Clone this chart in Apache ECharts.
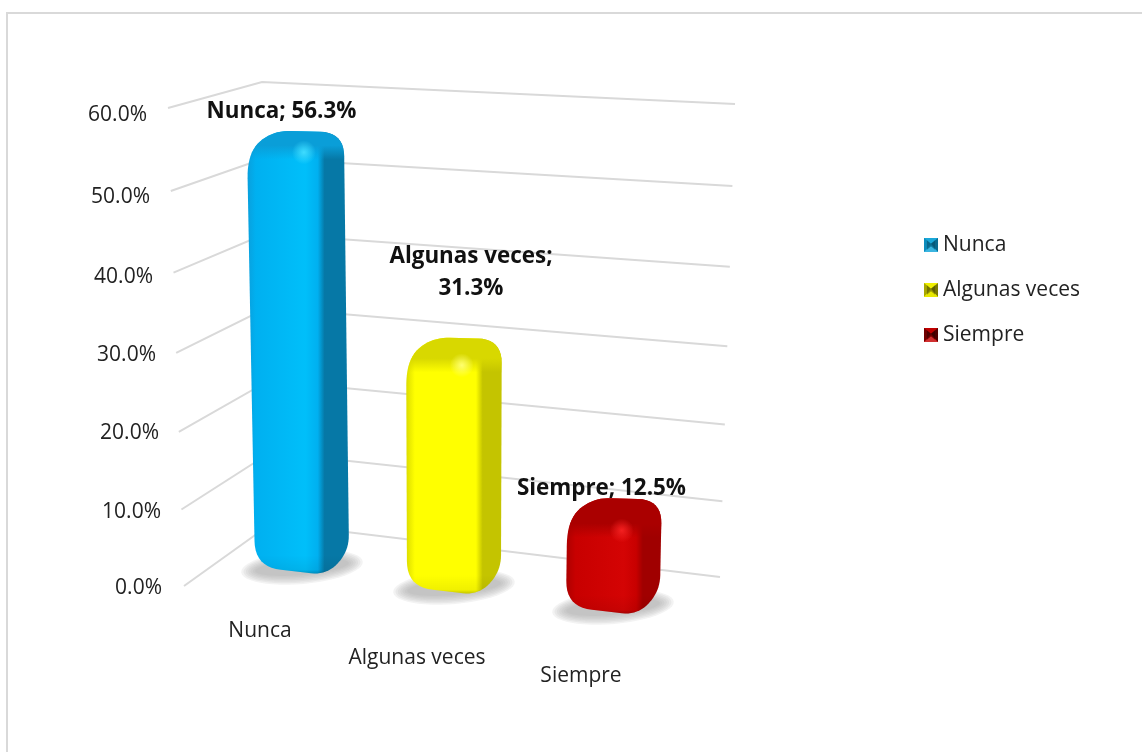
<!DOCTYPE html>
<html>
<head>
<meta charset="utf-8">
<style>html,body{margin:0;padding:0;background:#fff}#c{width:1142px;height:752px}</style>
<script src="https://cdn.jsdelivr.net/npm/echarts@6/dist/echarts.min.js"></script>
</head>
<body>
<div id="c"></div>
<script>
const categories = ['Nunca', 'Algunas veces', 'Siempre'];
const values = [56.3, 31.3, 12.5];
const yTicks = [0, 10, 20, 30, 40, 50, 60];

const FONT = '"Open Sans"';
const TXT = '#222222';
const GRID = { left: 180, right: 482, top: 113, bottom: 165 };
const baseY = 752 - GRID.bottom;
const plotH = baseY - GRID.top;

// Style of the tick labels (shift follows the slanted left wall)
const yShift = { 60: [2, 15], 50: [5, 12], 40: [6, 9], 30: [5, 6], 20: [4, 3], 10: [4, 1], 0: [1, 0] };
const xShift = [[0, 0, 0], [27, 6, 0], [45, 0, 2]];
const palette = [
  { side: '#0678a6', top: '#0a9ed8', l: '#0a9fdc', m: '#00b0f0', h: '#00bffa', glow: '#3fdcff',
    icon: ['#1aa7d8', '#0d8cbc', '#0a6a90', '#3bb5e0', '#064a66'] },
  { side: '#c4c400', top: '#d8d800', l: '#dcdc00', m: '#ffff00', h: '#ffff00', glow: '#ffff70',
    icon: ['#f0f000', '#a8a800', '#7a7a00', '#e8e800', '#4a4a00'] },
  { side: '#a00000', top: '#aa0000', l: '#b00000', m: '#c80000', h: '#d40404', glow: '#f42020',
    icon: ['#c00000', '#700000', '#500000', '#d03030', '#300000'] }
];
const labelOffset = [[-14, -19], [17, -65], [-13, -9]];

const wall = {
  F0: [184, 586], F60: [168, 108],
  B0: [272, 523], B60: [262, 82],
  R0: [720, 577], R60: [735, 104]
};
const lerp = (a, b, t) => [a[0] + (b[0] - a[0]) * t, a[1] + (b[1] - a[1]) * t];

function rounded(pts) {
  const out = [], n = pts.length;
  for (let i = 0; i < n; i++) {
    const p = pts[i], a = pts[(i + n - 1) % n], b = pts[(i + 1) % n], r = p[2] || 0;
    const la = Math.hypot(a[0] - p[0], a[1] - p[1]), lb = Math.hypot(b[0] - p[0], b[1] - p[1]);
    const s = [p[0] + (a[0] - p[0]) * Math.min(r / la, .5), p[1] + (a[1] - p[1]) * Math.min(r / la, .5)];
    const e = [p[0] + (b[0] - p[0]) * Math.min(r / lb, .5), p[1] + (b[1] - p[1]) * Math.min(r / lb, .5)];
    for (let k = 0; k <= 10; k++) {
      const t = k / 10, q = 1 - t;
      out.push([q * q * s[0] + 2 * q * t * p[0] + t * t * e[0], q * q * s[1] + 2 * q * t * p[1] + t * t * e[1]]);
    }
  }
  return out;
}

function project(gx, gy) {
  const h = (baseY - gy) * 0.9456;
  const d = gx - 260;
  const lean = (((gx - GRID.left) / 480) - 0.5) * 0.346 * (h / 7.47);
  return { x: 302 + 0.928 * d + 0.000137 * d * d + lean, y: 573 + 0.125 * d - h, by: 573 + 0.125 * d, h };
}

function renderWall(params, api) {
  const gy = api.coord([0, api.value(1)])[1];
  const t0 = (baseY - gy) / plotH;
  const t = t0 / (t0 + (1 - t0) * 1.05);
  const pts = [lerp(wall.F0, wall.F60, t), lerp(wall.B0, wall.B60, t), lerp(wall.R0, wall.R60, t)];
  return { type: 'polyline', shape: { points: pts }, style: { fill: null, stroke: '#d9d9d9', lineWidth: 2 }, silent: true };
}

function makeBar(idx) {
  return function (params, api) {
    const v = api.value(1);
    const g0 = api.coord([idx, 0]);
    const g1 = api.coord([idx, v]);
    const p0 = project(g0[0], g0[1]);
    const p1 = project(g1[0], g1[1]);
    const c = palette[idx];
    const by = p0.by + 2, ty = p1.y - 22;
    const w1 = 94 + 0.05 * v, w0 = 94;
    const L0 = p0.x - w0 / 2, R0 = p0.x + w0 / 2, L1 = p1.x - w1 / 2, R1 = p1.x + w1 / 2;
    const band = 34 - 0.25 * v;
    const alpha = (col, a) => echarts.color.modifyAlpha(col, a);

    const sil = rounded([
      [L0, by - 8, 26], [R0 - 22, by, 16], [R0, by - 24, 16],
      [R1, ty + 2, 24], [L1 + 26, ty, 18], [L1, ty + 22, 26]
    ]);
    const G = echarts.graphic;
    const hGrad = new G.LinearGradient(L1, 0, R1, 0, [
      { offset: 0, color: c.l }, { offset: 0.09, color: c.m }, { offset: 0.6, color: c.h },
      { offset: 0.73, color: c.m }, { offset: 0.8, color: c.side }, { offset: 1, color: c.side }
    ], true);
    const span = by - ty;
    const topGrad = new G.LinearGradient(0, ty, 0, by, [
      { offset: 0, color: c.top }, { offset: (band - 5) / span, color: c.top },
      { offset: (band + 9) / span, color: alpha(c.top, 0) }, { offset: 1, color: alpha(c.top, 0) }
    ], true);
    const vGrad = new G.LinearGradient(0, by - 20, 0, by, [
      { offset: 0, color: 'rgba(0,0,0,0)' }, { offset: 0.75, color: 'rgba(0,0,0,0.06)' }, { offset: 1, color: 'rgba(0,0,0,0.3)' }
    ], true);

    const rot = -5 * Math.PI / 180, scx = p0.x, scy = p0.by - 6;
    const shadows = [];
    for (let s = 0; s < 7; s++) {
      const f = s / 6, rx = 61 - 14 * f, ry = 17 - 9 * f, pts = [];
      for (let a = 0; a < 48; a++) {
        const th = a / 48 * Math.PI * 2, ex = rx * Math.cos(th), ey = ry * Math.sin(th);
        pts.push([scx + ex * Math.cos(rot) - ey * Math.sin(rot), scy + ex * Math.sin(rot) + ey * Math.cos(rot)]);
      }
      shadows.push({ type: 'polygon', shape: { points: pts }, style: { fill: 'rgba(165,165,165,0.13)' } });
    }
    const hx = R1 - 22 - 18, hy = ty + band + 2;
    const off = labelOffset[idx];
    const label = categories[idx] + ';' + (idx === 1 ? '\n' : ' ') + v.toFixed(1) + '%';

    return {
      type: 'group',
      children: shadows.concat([
        { type: 'polygon', shape: { points: sil }, style: { fill: hGrad } },
        { type: 'polygon', shape: { points: sil }, style: { fill: topGrad } },
        { type: 'polygon', shape: { points: sil }, style: { fill: vGrad } },
        { type: 'circle', shape: { cx: hx, cy: hy, r: 12 }, style: {
            fill: new G.RadialGradient(0.5, 0.5, 0.5, [
              { offset: 0, color: c.glow }, { offset: 1, color: alpha(c.glow, 0) }
            ]) } },
        { type: 'text', x: p1.x + off[0], y: ty + off[1], style: {
            text: label, fill: '#111111', font: 'bold 22.4px ' + FONT, align: 'center',
            verticalAlign: 'middle', lineHeight: 32 } }
      ])
    };
  };
}

function iconOf(c) {
  const svg = '<svg xmlns="http://www.w3.org/2000/svg" width="28" height="28" viewBox="0 0 24 24">' +
    '<rect width="24" height="24" fill="' + c[0] + '"/>' +
    '<polygon points="0,0 12,10 0,24" fill="' + c[1] + '"/>' +
    '<polygon points="24,0 12,10 24,24" fill="' + c[2] + '"/>' +
    '<polygon points="0,24 12,14 24,24" fill="' + c[3] + '"/>' +
    '<polygon points="5,4 12,10 19,4 19,20 12,14 5,20" fill="' + c[4] + '" opacity="0.55"/></svg>';
  return 'image://data:image/svg+xml;charset=utf-8,' + encodeURIComponent(svg);
}

const yRich = {};
yTicks.forEach(t => {
  yRich['y' + t] = { fontFamily: FONT, fontSize: 21, color: TXT, padding: [yShift[t][0] * 2, yShift[t][1], 0, 0] };
});
const xRich = {};
categories.forEach((n, i) => {
  xRich['x' + i] = { fontFamily: FONT, fontSize: 21, color: TXT, padding: [xShift[i][0], xShift[i][1], 0, xShift[i][2]] };
});

const chart = echarts.init(document.getElementById('c'), null, { renderer: 'canvas' });
chart.setOption({
  animation: false,
  backgroundColor: '#ffffff',
  graphic: [{
    type: 'rect', z: -10, silent: true,
    shape: { x: 7, y: 13, width: 1300, height: 900 },
    style: { fill: null, stroke: '#d9d9d9', lineWidth: 2 }
  }],
  grid: GRID,
  xAxis: {
    type: 'category', data: categories,
    axisLine: { show: false }, axisTick: { show: false }, splitLine: { show: false },
    axisLabel: {
      interval: 0, margin: 34, verticalAlign: 'top',
      formatter: (val, i) => '{x' + i + '|' + val + '}', rich: xRich
    }
  },
  yAxis: {
    type: 'value', min: 0, max: 60, interval: 10,
    axisLine: { show: false }, axisTick: { show: false }, splitLine: { show: false },
    axisLabel: {
      margin: 18,
      formatter: val => '{y' + val + '|' + val.toFixed(1) + '%}', rich: yRich
    }
  },
  legend: {
    orient: 'vertical', left: 919, top: 226, itemWidth: 14, itemHeight: 14, itemGap: 17,
    selectedMode: false,
    textStyle: { fontFamily: FONT, fontSize: 21, color: TXT, lineHeight: 28 },
    data: categories.map((n, i) => ({ name: n, icon: iconOf(palette[i].icon) }))
  },
  series: [
    { type: 'custom', name: 'grid', silent: true, z: 1, clip: false, renderItem: renderWall,
      encode: { x: 0, y: 1 }, data: yTicks.map(t => [0, t]) }
  ].concat(categories.map((n, i) => ({
    type: 'custom', name: n, z: 2 + i, clip: false, renderItem: makeBar(i), silent: true,
    itemStyle: { color: palette[i].m },
    encode: { x: 0, y: 1 }, data: [[i, values[i]]]
  })))
});
</script>
</body>
</html>
